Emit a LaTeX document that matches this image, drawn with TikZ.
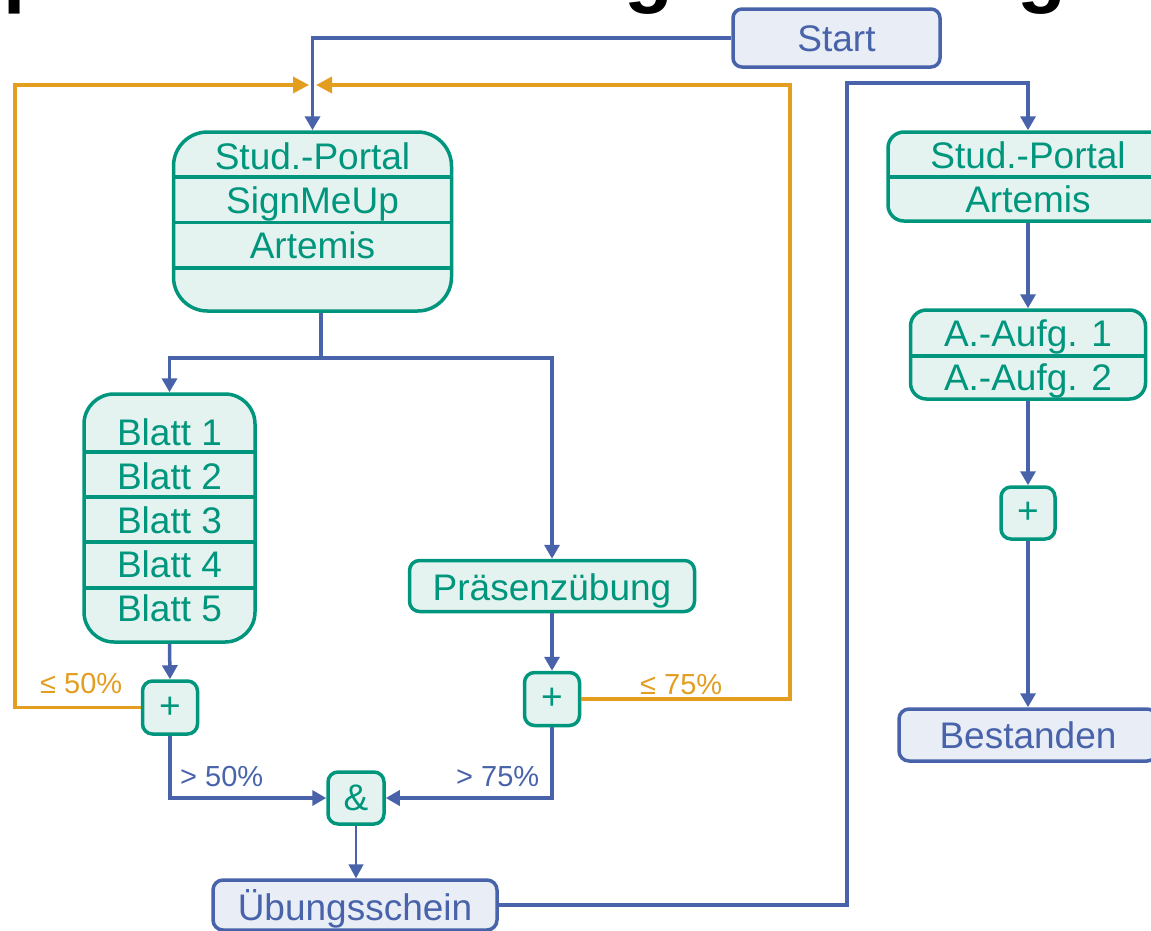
\documentclass[tikz,border=0pt]{standalone}
\usepackage{fontspec}
\setmainfont{Liberation Sans}
\usetikzlibrary{arrows.meta}

\definecolor{flowblue}{HTML}{4863AA}
\definecolor{flowbluefill}{HTML}{E9EDF6}
\definecolor{toolgreen}{HTML}{00967D}
\definecolor{toolgreenfill}{HTML}{E4F3EF}
\definecolor{retryorange}{HTML}{E39D1F}

\tikzset{
  boxtext/.style={font=\fontsize{37}{40}\selectfont, inner sep=0pt},
  labeltext/.style={font=\fontsize{29}{32}\selectfont, inner sep=0pt, anchor=base west},
  gbox/.style={draw=toolgreen, fill=toolgreenfill, line width=3.5pt, text=toolgreen,
               inner sep=0pt, boxtext},
  bbox/.style={draw=flowblue, fill=flowbluefill, line width=3.5pt, text=flowblue,
               inner sep=0pt, boxtext},
  gtext/.style={boxtext, text=toolgreen, anchor=base},
  divider/.style={draw=toolgreen, line width=3.5pt},
  flow/.style={draw=flowblue, line width=3.5pt,
               -{Triangle[width=15pt,length=14pt]}},
  flowplain/.style={draw=flowblue, line width=3.5pt},
  retry/.style={draw=retryorange, line width=3.5pt,
               -{Triangle[width=16pt,length=16pt]}},
  titleglyph/.style={font=\bfseries\fontsize{80}{80}\selectfont, inner sep=0pt,
               anchor=base west, text=black},
}

\begin{document}
\begin{tikzpicture}[x=1pt, y=-1pt]
\useasboundingbox (0,0) rectangle (1151,930);

% heading above the chart, only its descenders fall on the page
\node[titleglyph] (hp)  at (3,-3)    {p};
\node[titleglyph] (hg1) at (624,-3)  {g};
\node[titleglyph] (hg2) at (1017,-3) {g};

% ---- boxes ----
\node[bbox, rounded corners=9pt, minimum width=207pt, minimum height=58pt]
  (start) at (836.5,38) {};
\node[boxtext, text=flowblue, anchor=base] (starttxt) at (836.5,51) {Start};

% registration systems
\node[gbox, rounded corners=34pt, minimum width=278pt, minimum height=179pt]
  (portal) at (312.5,221.5) {};
\draw[divider] (173,177) -- (452,177);
\draw[divider] (173,222.5) -- (452,222.5);
\draw[divider] (173,268) -- (452,268);
\node[gtext] (p1) at (312.5,169) {Stud.-Portal};
\node[gtext] (p2) at (312.5,213) {SignMeUp};
\node[gtext] (p3) at (312.5,258) {Artemis};

% exercise sheets
\node[gbox, rounded corners=30pt, minimum width=171pt, minimum height=248pt]
  (blatt) at (169.5,518) {};
\draw[divider] (84,452) -- (255,452);
\draw[divider] (84,497) -- (255,497);
\draw[divider] (84,542) -- (255,542);
\draw[divider] (84,588) -- (255,588);
\node[gtext] (b1) at (169.5,445) {Blatt 1};
\node[gtext] (b2) at (169.5,489) {Blatt 2};
\node[gtext] (b3) at (169.5,533) {Blatt 3};
\node[gtext] (b4) at (169.5,577) {Blatt 4};
\node[gtext] (b5) at (169.5,621) {Blatt 5};

\node[gbox, rounded corners=10pt, minimum width=285pt, minimum height=51pt]
  (praes) at (552,586) {};
\node[gtext] (praestxt) at (552,600) {Präsenzübung};

\node[gbox, rounded corners=10pt, minimum width=55pt, minimum height=53pt]
  (plusA) at (170,707.5) {+};
\node[gbox, rounded corners=10pt, minimum width=55pt, minimum height=53pt]
  (plusB) at (552,699) {+};
\node[gbox, rounded corners=10pt, minimum width=56pt, minimum height=52pt]
  (and) at (356,798) {\&};

\node[bbox, rounded corners=10pt, minimum width=284pt, minimum height=50pt]
  (uebung) at (355,905) {};
\node[boxtext, text=flowblue, anchor=base] (uebungtxt) at (355,920) {Übungsschein};

% exam branch
\node[gbox, rounded corners=16pt, minimum width=280pt, minimum height=89pt]
  (portal2) at (1028,176.5) {};
\draw[divider] (888,177) -- (1168,177);
\node[gtext] (q1) at (1028,168) {Stud.-Portal};
\node[gtext] (q2) at (1028,212) {Artemis};

\node[gbox, rounded corners=16pt, minimum width=235pt, minimum height=89pt]
  (aufg) at (1028,354.5) {};
\draw[divider] (910.5,356) -- (1145.5,356);
\node[gtext] (a1) at (1028,346) {A.-Aufg. 1};
\node[gtext] (a2) at (1028,390) {A.-Aufg. 2};

\node[gbox, rounded corners=10pt, minimum width=54pt, minimum height=52pt]
  (plusC) at (1028,513) {+};

\node[bbox, rounded corners=10pt, minimum width=258pt, minimum height=52pt]
  (bestanden) at (1028,735) {};
\node[boxtext, text=flowblue, anchor=base] (bestandentxt) at (1028,748) {Bestanden};

% ---- connectors ----
\coordinate (mergeL) at (309,85);
\coordinate (mergeR) at (316,85);
\coordinate (loopL) at (15,85);
\coordinate (loopR) at (790,85);
\coordinate (split) at (321,358);
\coordinate (handover) at (847,83);

\draw[flow] (start.west) -| (portal.north);

\draw[retry] (plusA.west) -| (loopL) -- (mergeL);
\draw[retry] (plusB.east) -| (loopR) -- (mergeR);

\draw[flowplain] (portal.south -| split) -- (split);
\draw[flow] (split) -| (blatt.north);
\draw[flow] (split) -| (praes.north);

\draw[flow] (blatt.south) -- (plusA.north);
\draw[flow] (praes.south) -- (plusB.north);
\draw[flow] (plusA.south) |- (and.west);
\draw[flow] (plusB.south) |- (and.east);
\draw[flow, line width=1.5pt] (and.south) -- (and.south |- uebung.north);

\draw[flow] (uebung.east) -| (handover) -| (portal2.north);
\draw[flow] (portal2.south) -- (aufg.north);
\draw[flow] (aufg.south) -- (plusC.north);
\draw[flow] (plusC.south) -- (bestanden.north);

% ---- threshold labels ----
\node[labeltext, text=retryorange] (le50) at (40,693) {≤ 50\%};
\node[labeltext, text=retryorange] (le75) at (640,694) {≤ 75\%};
\node[labeltext, text=flowblue] (gt50) at (180,786) {> 50\%};
\node[labeltext, text=flowblue] (gt75) at (456,786) {> 75\%};
\end{tikzpicture}
\end{document}
